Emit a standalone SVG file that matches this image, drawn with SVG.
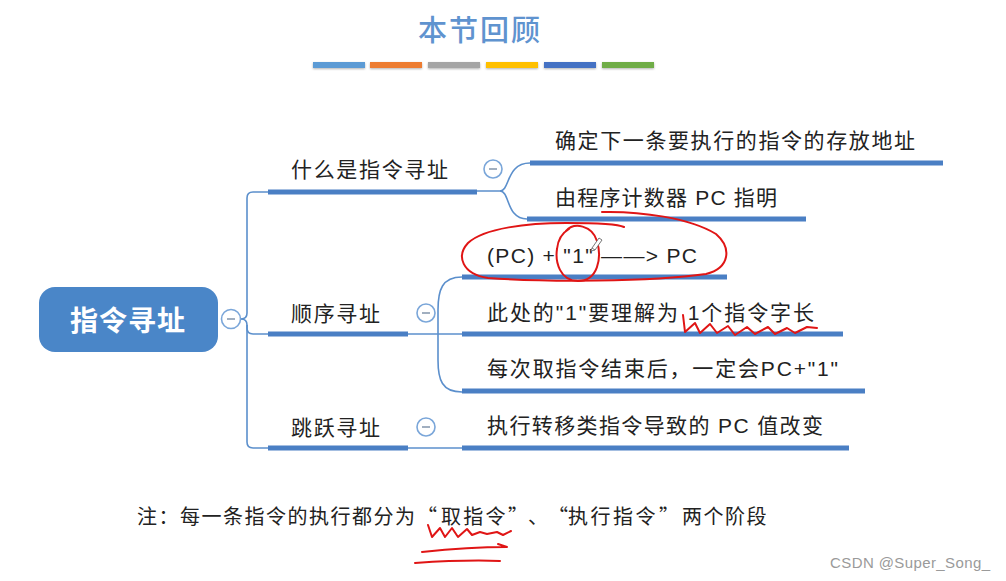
<svg xmlns="http://www.w3.org/2000/svg" width="1006" height="581" viewBox="0 0 1006 581">
<style>
.t{font-family:"Liberation Sans","Noto Sans CJK SC",sans-serif;font-size:21px;fill:#222;}
.n{font-family:"Noto Sans CJK SC",sans-serif;font-size:20px;fill:#222;}
.ul{stroke:#4a7fc4;stroke-width:5;fill:none;}
.cn{stroke:#5b8fcc;stroke-width:1.6;fill:none;}
.col circle{fill:#fff;stroke:#7aa6d9;stroke-width:1.6;}
.col line{stroke:#8a9bb0;stroke-width:1.6;}
.red{stroke:#e01515;stroke-width:2;fill:none;stroke-linecap:round;stroke-linejoin:round;}
</style>
<defs>
<filter id="sh" x="-10%" y="-50%" width="120%" height="250%">
<feDropShadow dx="0" dy="1" stdDeviation="1" flood-color="#000" flood-opacity="0.3"/>
</filter>
</defs>
<rect width="1006" height="581" fill="#fff"/>
<g id="title">
<text x="418" y="41" textLength="122" style="font-family:'Noto Sans CJK SC',sans-serif;font-size:29px;font-weight:500;fill:#5f93cf">本节回顾</text>
<g filter="url(#sh)">
<rect x="313" y="62" width="52" height="6" fill="#5b9bd5"/>
<rect x="370" y="62" width="52" height="6" fill="#ed7d31"/>
<rect x="428" y="62" width="52" height="6" fill="#a5a5a5"/>
<rect x="486" y="62" width="52" height="6" fill="#ffc000"/>
<rect x="544" y="62" width="52" height="6" fill="#4472c4"/>
<rect x="602" y="62" width="52" height="6" fill="#70ad47"/>
</g>
</g>
<g id="connectors">
<path class="cn" d="M241,319 Q247,319 247,313 V198 Q247,192 253,192 H268"/>
<path class="cn" d="M241,319 Q247,319 247,325 V328 Q247,334 253,334 H268"/>
<path class="cn" d="M247,325 V442 Q247,448 253,448 H268"/>
<path class="cn" d="M477,191 H500 C510,191 506,163 530,163"/>
<path class="cn" d="M500,191 C510,191 506,219 527,219"/>
<path class="cn" d="M408,334 H462"/>
<path class="cn" d="M462,277 C442,277 438,290 438,310 V360 C438,380 442,392 462,392"/>
<path class="cn" d="M408,448 H462"/>
</g>
<g id="root">
<rect x="39" y="287" width="179" height="65" rx="16" fill="#4a86c8"/>
<text x="70" y="331" textLength="115" style="font-family:'Noto Sans CJK SC',sans-serif;font-size:28px;font-weight:700;fill:#fff">指令寻址</text>
<g class="col"><circle cx="231" cy="319" r="9.5"/><line x1="227" y1="319" x2="235" y2="319"/></g>
</g>
<g id="b1">
<line class="ul" x1="268" y1="192" x2="477" y2="192"/>
<text class="t" x="291" y="177" textLength="157">什么是指令寻址</text>
<g class="col"><circle cx="493" cy="169" r="9"/><line x1="489" y1="169" x2="497" y2="169"/></g>
</g>
<g id="b1c1">
<line class="ul" x1="530" y1="163" x2="943" y2="163"/>
<text class="t" x="555" y="148" textLength="360">确定下一条要执行的指令的存放地址</text>
</g>
<g id="b1c2">
<line class="ul" x1="527" y1="219" x2="806" y2="219"/>
<text class="t" x="555" y="205" textLength="222">由程序计数器 PC 指明</text>
</g>
<g id="b2">
<line class="ul" x1="268" y1="334" x2="408" y2="334"/>
<text class="t" x="291" y="321" textLength="89">顺序寻址</text>
<g class="col"><circle cx="426" cy="313" r="9"/><line x1="422" y1="313" x2="430" y2="313"/></g>
</g>
<g id="b2c1">
<line class="ul" x1="462" y1="277" x2="727" y2="277"/>
<text class="t" x="487" y="263" textLength="210">(PC) + "1" ——&gt; PC</text>
</g>
<g id="b2c2">
<line class="ul" x1="462" y1="334" x2="843" y2="334"/>
<text class="t" x="487" y="320" textLength="327">此处的"1"要理解为 1个指令字长</text>
</g>
<g id="b2c3">
<line class="ul" x1="462" y1="391" x2="865" y2="391"/>
<text class="t" x="487" y="376" textLength="351">每次取指令结束后，一定会PC+"1"</text>
</g>
<g id="b3">
<line class="ul" x1="268" y1="448" x2="408" y2="448"/>
<text class="t" x="291" y="435" textLength="89">跳跃寻址</text>
<g class="col"><circle cx="426" cy="427" r="9"/><line x1="422" y1="427" x2="430" y2="427"/></g>
</g>
<g id="b3c1">
<line class="ul" x1="462" y1="448" x2="849" y2="448"/>
<text class="t" x="487" y="433" textLength="336">执行转移类指令导致的 PC 值改变</text>
</g>
<g id="note">
<text class="n" y="524"><tspan x="137" letter-spacing="1.5">注：每一条指令的执行都分为</tspan><tspan x="417">“</tspan><tspan x="441" letter-spacing="2.3">取指令</tspan><tspan x="508">”</tspan><tspan x="528">、</tspan><tspan x="548">“</tspan><tspan x="568" letter-spacing="2.5">执行指令</tspan><tspan x="659">”</tspan><tspan x="682" letter-spacing="1.5">两个阶段</tspan></text>
</g>
<g id="annotations">
<path class="red" d="M602,212 C640,211 690,218 716,234 C732,248 730,268 706,274 C650,282 545,282 488,278 C462,274 456,256 468,243 C484,228 528,223 566,223 C598,223 618,224 624,227"/>
<path class="red" d="M566,231 C574,222 592,225 597,241 C602,258 598,281 578,281 C560,281 555,262 557,249 C558,239 562,233 569,229"/>
<path d="M592,248 L599,238 L602,240 L595,250 Z M592,248 L591,251 L595,250" fill="#fff" stroke="#777" stroke-width="1"/>
<polyline class="red" points="683,315 685,332 695,323 700,333 710,324 717,333 728,326 735,335 747,327 755,334 768,327 775,334 787,328 795,333 807,327 817,328"/>
<polyline class="red" points="428,525 432,537 440,528 445,537 452,528 458,537 467,529 472,535 480,532 487,534 497,532 503,535 511,531"/>
<path class="red" d="M422,552 C450,549 480,547 507,547 M498,544 L507,547"/>
<path class="red" d="M415,563 C445,561 475,560 500,561"/>
</g>
<text x="830" y="568" textLength="160" style="font-family:'Liberation Sans',sans-serif;font-size:15px;fill:#9a9a9a">CSDN @Super_Song_</text>
</svg>
